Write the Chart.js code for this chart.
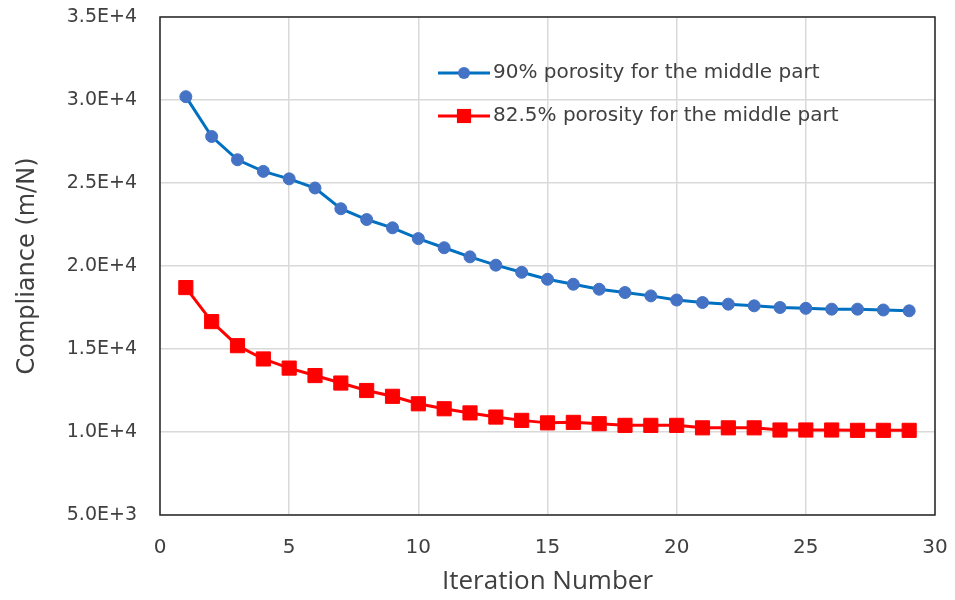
<!DOCTYPE html>
<html>
<head>
<meta charset="utf-8">
<script src="https://cdn.jsdelivr.net/npm/chart.js@4/dist/chart.umd.min.js"></script>
<style>
  html, body { margin: 0; padding: 0; background: #fff; }
  #wrap { width: 955px; height: 600px; position: relative; }
</style>
</head>
<body>
<div id="wrap"><canvas id="c"></canvas></div>
<script>
// Iteration numbers shared by both runs
const iterations = [1,2,3,4,5,6,7,8,9,10,11,12,13,14,15,16,17,18,19,20,21,22,23,24,25,26,27,28,29];

// Compliance history, 90% porosity in the middle part
const compliance90 = [30200,27800,26400,25700,25250,24700,23450,22800,22300,21650,
                      21100,20550,20050,19620,19200,18900,18600,18400,18200,17950,
                      17800,17700,17600,17500,17450,17400,17400,17350,17300];

// Compliance history, 82.5% porosity in the middle part
const compliance825 = [18700,16650,15200,14400,13850,13400,12950,12500,12150,11700,
                       11400,11150,10900,10700,10550,10580,10500,10400,10400,10400,
                       10250,10250,10250,10120,10120,10120,10100,10100,10100];

const seriesLabels = ['90% porosity for the middle part', '82.5% porosity for the middle part'];
const xTicks = [0, 5, 10, 15, 20, 25, 30];
const yTicks = [5000, 10000, 15000, 20000, 25000, 30000, 35000];

const toPoints = (ys) => iterations.map((x, i) => ({ x: x, y: ys[i] }));

const FONT = '"DejaVu Sans", sans-serif';

// Frame around the plotting area plus an in-plot legend
const framePlugin = {
  id: 'frame',
  afterDatasetsDraw(chart) {
    const { ctx, chartArea: a } = chart;
    ctx.save();
    ctx.strokeStyle = '#262626';
    ctx.lineWidth = 1.5;
    ctx.strokeRect(a.left, a.top, a.right - a.left, a.bottom - a.top);

    // legend entries
    const x0 = 438, x1 = 490, rows = [73, 116];
    chart.data.datasets.forEach((ds, i) => {
      const y = rows[i];
      const cx = (x0 + x1) / 2;
      ctx.strokeStyle = ds.borderColor;
      ctx.lineWidth = ds.borderWidth;
      ctx.beginPath();
      ctx.moveTo(x0, y);
      ctx.lineTo(x1, y);
      ctx.stroke();
      ctx.fillStyle = ds.pointBackgroundColor;
      ctx.beginPath();
      if (ds.pointStyle === 'rect') {
        const s = ds.pointRadius * Math.SQRT1_2;
        ctx.rect(cx - s, y - s, 2 * s, 2 * s);
      } else {
        ctx.arc(cx, y, ds.pointRadius, 0, Math.PI * 2);
      }
      ctx.fill();
      ctx.fillStyle = '#404040';
      ctx.font = '20px ' + FONT;
      ctx.textBaseline = 'middle';
      ctx.textAlign = 'left';
      ctx.fillText(ds.label, x1 + 3, y);
    });
    ctx.restore();
  }
};

new Chart(document.getElementById('c'), {
  type: 'line',
  data: {
    datasets: [
      {
        label: seriesLabels[0],
        data: toPoints(compliance90),
        borderColor: '#0070C0',
        borderWidth: 3,
        pointStyle: 'circle',
        pointRadius: 6,
        pointBackgroundColor: '#4472C4',
        pointBorderColor: '#4472C4',
        pointBorderWidth: 1,
        tension: 0
      },
      {
        label: seriesLabels[1],
        data: toPoints(compliance825),
        borderColor: '#FF0000',
        borderWidth: 3,
        pointStyle: 'rect',
        pointRadius: 10,
        pointBackgroundColor: '#FF0000',
        pointBorderColor: '#FF0000',
        pointBorderWidth: 1,
        tension: 0
      }
    ]
  },
  options: {
    responsive: true,
    maintainAspectRatio: false,
    animation: false,
    layout: { padding: { left: 0, top: 17, right: 20, bottom: 0 } },
    plugins: {
      legend: { display: false },
      tooltip: { enabled: false }
    },
    scales: {
      x: {
        type: 'linear',
        min: 0,
        max: 30,
        afterBuildTicks(scale) { scale.ticks = xTicks.map(v => ({ value: v })); },
        afterFit(scale) {
          scale.height = 85;
          scale.paddingLeft = 0;
          scale.paddingRight = 0;
        },
        grid: { color: '#d9d9d9', lineWidth: 1.5, drawTicks: false },
        border: { display: false },
        ticks: {
          color: '#404040',
          font: { family: FONT, size: 20 },
          padding: 21,
          maxRotation: 0
        },
        title: {
          display: true,
          text: 'Iteration Number',
          color: '#404040',
          font: { family: '"Open Sans", sans-serif', size: 26 },
          padding: { top: 0, bottom: 3 }
        }
      },
      y: {
        type: 'linear',
        min: 5000,
        max: 35000,
        afterBuildTicks(scale) { scale.ticks = yTicks.map(v => ({ value: v })); },
        afterFit(scale) {
          scale.width = 160;
          scale.paddingTop = 0;
          scale.paddingBottom = 0;
        },
        grid: { color: '#d9d9d9', lineWidth: 1.5, drawTicks: false },
        border: { display: false },
        ticks: {
          color: '#404040',
          font: { family: FONT, size: 19 },
          padding: 23,
          callback: (v) => Number(v).toExponential(1).toUpperCase()
        },
        title: {
          display: true,
          text: 'Compliance (m/N)',
          color: '#404040',
          font: { family: FONT, size: 24 },
          padding: { top: 13, bottom: 0 }
        }
      }
    }
  },
  plugins: [framePlugin]
});
</script>
</body>
</html>
